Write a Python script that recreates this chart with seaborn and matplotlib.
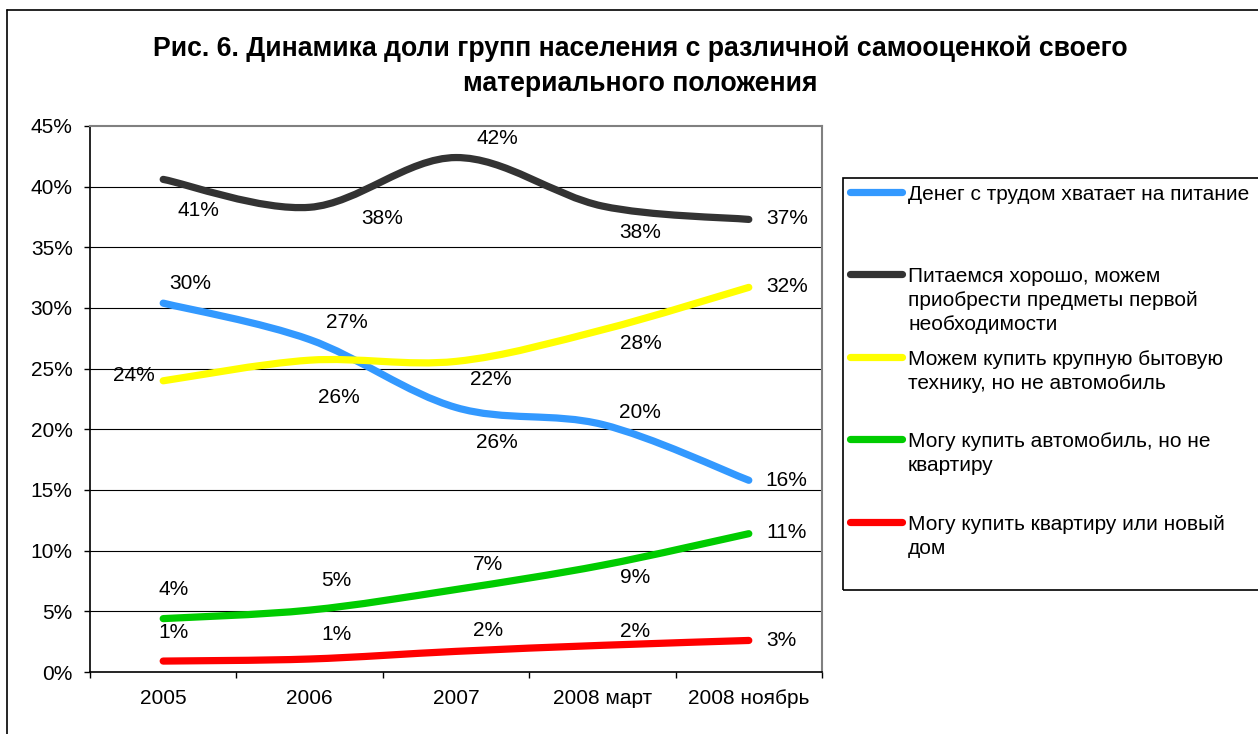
import numpy as np
import pandas as pd
import matplotlib
matplotlib.use("Agg")
import matplotlib.pyplot as plt
import seaborn as sns
from matplotlib.path import Path
from matplotlib.patches import PathPatch, Rectangle
from matplotlib.lines import Line2D

# ---------------- data ----------------
periods = ["2005", "2006", "2007", "2008 март", "2008 ноябрь"]
series_names = [
    "Денег с трудом хватает на питание",
    "Питаемся хорошо, можем\nприобрести предметы первой\nнеобходимости",
    "Можем купить крупную бытовую\nтехнику, но не автомобиль",
    "Могу купить автомобиль, но не\nквартиру",
    "Могу купить квартиру или новый\nдом",
]
food_hard = [30.4, 27.4, 21.8, 20.4, 15.8]
eat_well = [40.6, 38.3, 42.4, 38.4, 37.3]
appliances = [24.0, 25.7, 25.6, 28.2, 31.7]
car = [4.4, 5.1, 6.8, 8.8, 11.4]
flat = [0.9, 1.07, 1.7, 2.2, 2.6]
y_ticks = [0, 5, 10, 15, 20, 25, 30, 35, 40, 45]
title = "Рис. 6. Динамика доли групп населения с различной самооценкой своего\nматериального положения"

values = [food_hard, eat_well, appliances, car, flat]
colors = ["#3399FF", "#333333", "#FFFF00", "#00CC00", "#FF0000"]

# label offsets (pixels) relative to each data point: (dx, dy_up)
label_offsets = [
    [(27, 20), (37, 17), (35, 28), (38, 12), (38, 0)],
    [(35, -31), (73, -11), (41, 19), (38, -26), (38, 1)],
    [(-29, 5), (29, -37), (41, -81), (38, -14), (38, 1)],
    [(10, 29), (27, 30), (32, 25), (33, -12), (38, 1)],
    [(10, 29), (27, 25), (32, 21), (33, 14), (33, 0)],
]

# ---------------- figure ----------------
W, H = 1258, 734
sns.set_style("white")
plt.rcParams["font.family"] = ["Liberation Sans", "DejaVu Sans"]
for key in ["text.color", "axes.labelcolor", "xtick.color", "ytick.color"]:
    plt.rcParams[key] = "black"
FS = 15
fig = plt.figure(figsize=(W / 100, H / 100), dpi=100)

def fx(x):
    return x / W

def fy(y):
    return 1 - y / H

ax = fig.add_axes([fx(90), fy(672), fx(822) - fx(90), fy(126) - fy(672)])

rows = []
for name, vals in zip(series_names, values):
    for i, v in enumerate(vals):
        rows.append({"pos": i, "period": periods[i], "series": name, "value": v})
df = pd.DataFrame(rows)

sns.lineplot(data=df, x="pos", y="value", hue="series", palette=colors,
             linewidth=0, legend=False, ax=ax)

# smoothed (Excel-like) curves through the data points
for vals, col in zip(values, colors):
    pts = np.array([[i, v] for i, v in enumerate(vals)], dtype=float)
    n = len(pts)
    verts = [tuple(pts[0])]
    codes = [Path.MOVETO]
    for i in range(n - 1):
        p_prev = pts[max(i - 1, 0)]
        p0 = pts[i]
        p1 = pts[i + 1]
        p_next = pts[min(i + 2, n - 1)]
        c1 = p0 + (p1 - p_prev) / 6.0
        c2 = p1 - (p_next - p0) / 6.0
        verts += [tuple(c1), tuple(c2), tuple(p1)]
        codes += [Path.CURVE4] * 3
    patch = PathPatch(Path(verts, codes), fill=False, edgecolor=col, lw=5.2,
                      capstyle="round", joinstyle="round", zorder=3)
    ax.add_patch(patch)

# data labels
for vals, offs in zip(values, label_offsets):
    for i, v in enumerate(vals):
        dx, dy = offs[i]
        ax.annotate(f"{round(v)}%", xy=(i, v), xytext=(dx, dy),
                    textcoords="offset pixels", ha="center", va="center",
                    fontsize=FS, color="black", zorder=5)

# axes styling
ax.set_xlim(-0.5, len(periods) - 0.5)
ax.set_ylim(0, 45)
ax.set_xlabel("")
ax.set_ylabel("")
ax.set_yticks(y_ticks)
ax.set_yticklabels([f"{t}%" for t in y_ticks], fontsize=FS)
ax.set_xticks(np.arange(-0.5, len(periods), 1.0))
ax.set_xticklabels([])
ax.set_xticks(np.arange(len(periods)), minor=True)
ax.set_xticklabels(periods, minor=True, fontsize=FS)
ax.tick_params(axis="x", which="major", direction="out", length=4.5, width=1, color="black")
ax.tick_params(axis="x", which="minor", length=0, pad=12.5)
ax.tick_params(axis="y", direction="out", length=4.5, width=1, color="black", pad=8)
ax.tick_params(left=True, bottom=True)
for t in y_ticks[1:-1]:
    ax.axhline(t, color="black", lw=0.8, zorder=1)
for side in ["left", "bottom"]:
    ax.spines[side].set_color("black")
    ax.spines[side].set_linewidth(1.2)
for side in ["top", "right"]:
    ax.spines[side].set_color("#808080")
    ax.spines[side].set_linewidth(1.5)
ax.set_facecolor("white")

# title
fig.text(fx(640), fy(66), title, ha="center", va="center", fontsize=19.2,
         fontweight="bold", linespacing=1.45, color="black")

# legend (drawn manually to keep handles aligned with first text line)
fig.add_artist(Rectangle((fx(843), fy(590)), fx(1262) - fx(843), fy(178) - fy(590),
                         transform=fig.transFigure, fill=False, edgecolor="black", lw=1.2))
leg_y = [192, 274, 357, 439, 522]
for name, col, ly in zip(series_names, colors, leg_y):
    fig.add_artist(Line2D([fx(850), fx(902)], [fy(ly), fy(ly)], transform=fig.transFigure,
                          color=col, lw=5.2, solid_capstyle="round"))
    fig.text(fx(908), fy(ly - 7), name, ha="left", va="top", fontsize=FS,
             linespacing=1.32, color="black")

# outer chart border
fig.add_artist(Line2D([fx(7), fx(7)], [fy(10), 0], transform=fig.transFigure, color="black", lw=1.2))
fig.add_artist(Line2D([fx(7), 1], [fy(10), fy(10)], transform=fig.transFigure, color="black", lw=1.2))

fig.savefig("out.png", dpi=100, facecolor="white")
